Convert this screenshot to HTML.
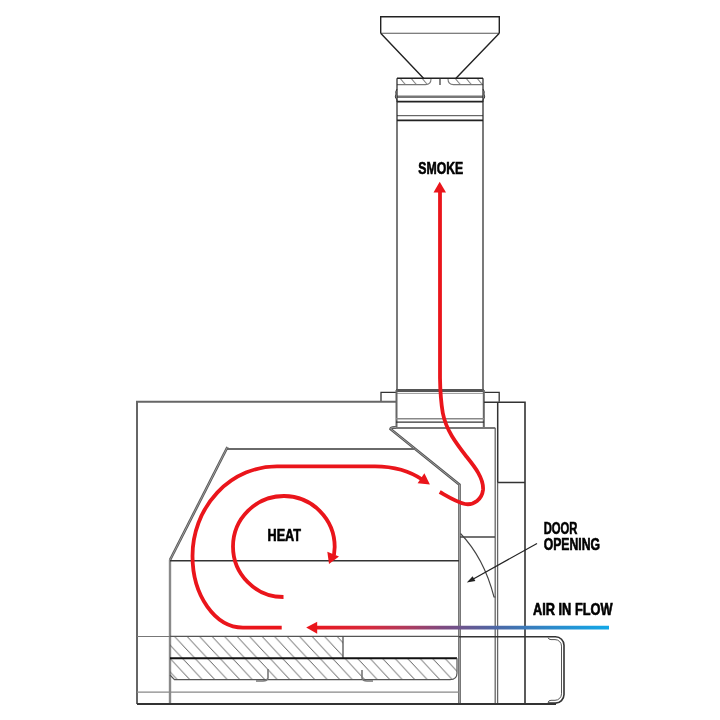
<!DOCTYPE html>
<html><head><meta charset="utf-8">
<style>
html,body{margin:0;padding:0;background:#fff;width:720px;height:720px;overflow:hidden}
svg{display:block}
text{font-family:"Liberation Sans",sans-serif;font-weight:bold;fill:#000;stroke:#000;stroke-width:0.65}
</style></head><body>
<svg width="720" height="720" viewBox="0 0 720 720">
<defs>
  <pattern id="hatch" patternUnits="userSpaceOnUse" width="12.5" height="13.4" patternTransform="translate(174.5,636.4)">
    <path d="M0 0 L12.5 13.4 M-12.5 0 L0 13.4 M12.5 0 L25 13.4" stroke="#555" stroke-width="0.95"/>
  </pattern>
  <pattern id="hatch2" patternUnits="userSpaceOnUse" width="11" height="6.3" patternTransform="translate(400,78.3)">
    <path d="M0 0 L5.5 6.3 M-11 0 L-5.5 6.3 M11 0 L16.5 6.3" stroke="#777" stroke-width="1"/>
  </pattern>
  <linearGradient id="airg" gradientUnits="userSpaceOnUse" x1="306" y1="0" x2="609" y2="0">
    <stop offset="0" stop-color="#ea151b"/>
    <stop offset="0.2" stop-color="#d8283a"/>
    <stop offset="0.33" stop-color="#b03a5c"/>
    <stop offset="0.45" stop-color="#7e4a80"/>
    <stop offset="0.63" stop-color="#4c68a6"/>
    <stop offset="0.8" stop-color="#2e88c8"/>
    <stop offset="1" stop-color="#12a8e8"/>
  </linearGradient>
</defs>

<!-- ===== Chimney cap ===== -->
<g fill="none" stroke="#222" stroke-width="1.4">
  <path d="M380.7 33.3 L380.7 16.8 L499.3 16.8 L499.3 33.3"/>
  <path d="M380.7 33.3 L499.3 33.3" stroke="#555" stroke-width="1.1"/>
  <path d="M380.7 33.3 L423.5 78.3 M499.3 33.3 L456 78.3"/>
</g>

<!-- ===== Top collar ===== -->
<clipPath id="bandL"><path d="M397 78.3 L431 78.3 L431 79 Q431 84.6 425.5 84.6 L397 84.6 Z"/></clipPath>
<clipPath id="bandR"><path d="M483 78.3 L448 78.3 L448 79 Q448 84.6 453.5 84.6 L483 84.6 Z"/></clipPath>
<rect x="397" y="78.3" width="34" height="6.3" fill="url(#hatch2)" clip-path="url(#bandL)"/>
<rect x="448" y="78.3" width="35" height="6.3" fill="url(#hatch2)" clip-path="url(#bandR)"/>
<g fill="none">
  <path d="M397 78.3 L483 78.3" stroke="#222" stroke-width="1.6"/>
  <path d="M397 84.6 L425.5 84.6 Q431 84.6 431 79 M483 84.6 L453.5 84.6 Q448 84.6 448 79" stroke="#777" stroke-width="1.1"/>
  <path d="M440 78.3 L440 85" stroke="#333" stroke-width="1.2"/>
  <path d="M397 96.7 L483 96.7" stroke="#777" stroke-width="2.6"/>
  <path d="M397 101.7 L483 101.7" stroke="#222" stroke-width="1.8"/>
  <path d="M397 115.7 L483 115.7" stroke="#444" stroke-width="1"/>
  <path d="M397 120.4 L483 120.4" stroke="#222" stroke-width="1.8"/>
  <path d="M397 78.3 L397 391 M483 78.3 L483 391" stroke="#222" stroke-width="1.2"/>
  <path d="M397 89 Q395 92 396 94 Q394 97 397 100 L397 102" stroke="#333" stroke-width="1"/>
  <path d="M483 89 Q485 92 484 94 Q486 97 483 100 L483 102" stroke="#333" stroke-width="1"/>
</g>

<!-- ===== Lower collar / oven top ===== -->
<g fill="none">
  <path d="M396 390.5 L484 390.5" stroke="#555" stroke-width="2.8"/>
  <path d="M396 393.4 L484 393.4" stroke="#999" stroke-width="1"/>
  <path d="M381 401.7 L381 392.3 L396 392.3 M484 392.3 L499.2 392.3 L499.2 401.7" stroke="#333" stroke-width="1.3"/>
  <path d="M396.5 390 L396.5 427.5 M483.8 390 L483.8 427.5" stroke="#666" stroke-width="2"/>
  <path d="M396 418.8 L484 418.8" stroke="#888" stroke-width="1.4"/>
  <path d="M396 422.2 L484 422.2" stroke="#333" stroke-width="1.3"/>
  <path d="M392 428 L495.3 428" stroke="#777" stroke-width="2.2"/>
  <path d="M137 704 L137 401.7 L396 401.7" stroke="#666" stroke-width="2"/>
  <path d="M484 402.3 L525 402.3 L525 704" stroke="#333" stroke-width="1.6"/>
  <path d="M497.7 402.3 L497.7 482.5 L525 482.5" stroke="#333" stroke-width="1.5"/>
  <path d="M495.2 428 L495.2 704" stroke="#666" stroke-width="1.3"/>
  <path d="M497.6 482.5 L497.6 704" stroke="#666" stroke-width="1.3"/>
  <!-- baffle -->
  <path d="M396 427.5 Q391 427 390.5 429 L459.5 484.7 L459.5 704" stroke="#555" stroke-width="2.6"/>
  <path d="M396 427.5 Q391 427 390.5 429 L459.5 484.7 L459.5 704" stroke="#bbb" stroke-width="0.7"/>
  <!-- dome -->
  <path d="M227 449 L415 449" stroke="#6a6a6a" stroke-width="2"/>
  <path d="M170 560 L170 704" stroke="#8a8a8a" stroke-width="2.4"/>
  <path d="M227.5 447 L170 560" stroke="#555" stroke-width="2.6"/>
  <path d="M227.5 447 L170 560" stroke="#bbb" stroke-width="0.7"/>
  <path d="M170 560.8 L459 560.8" stroke="#333" stroke-width="1.4"/>
  <path d="M137 636.5 L170 636.5" stroke="#777" stroke-width="1"/>
</g>

<!-- slabs -->
<rect x="170" y="636.4" width="173" height="21.8" fill="url(#hatch)"/>
<path d="M170 658.2 L457 658.2 L457 673 Q457 679.7 450 679.7 L174.5 679.7 L170 675 Z" fill="url(#hatch)"/>
<g fill="none">
  <path d="M170 636.4 L459 636.4" stroke="#555" stroke-width="1.2"/>
  <path d="M343 636.4 L343 658.2" stroke="#444" stroke-width="1.2"/>
  <path d="M170 658.2 L457 658.2" stroke="#111" stroke-width="2"/>
  <path d="M457 658.2 L457 673 Q457 679.7 450 679.7 L174.5 679.7 L170 675" stroke="#555" stroke-width="1.2"/>
  <path d="M268 669 L268 678 Q267 681 263 681 L256 681" stroke="#777" stroke-width="1.6"/>
  <path d="M362 670 L362 678 Q363 681 367 681 L373 681" stroke="#777" stroke-width="1.6"/>
  <path d="M137 692.2 L459 692.2" stroke="#888" stroke-width="1.2"/>
  <path d="M137 704 L556 704" stroke="#333" stroke-width="2"/>
  <!-- door -->
  <path d="M460 537 L495 537" stroke="#444" stroke-width="1.3"/>
  <path d="M460.5 533.5 Q484 558 494 597 L495.5 597" stroke="#444" stroke-width="1.1"/>
  <!-- handle -->
  <path d="M459 636.8 L555.5 636.8 A 8.5 8.5 0 0 1 564 645.3 L564 694.6 A 8.5 8.5 0 0 1 555.5 703.1 L548 703.1" stroke="#333" stroke-width="1.6"/>
  <path d="M548 637.5 Q548.5 639.6 551 639.6 L555 639.6 A 6.5 6.5 0 0 1 561.5 646.1 L561.5 693.8 A 6.5 6.5 0 0 1 555 700.3 L551 700.3 Q548.5 700.3 548 702.5" stroke="#555" stroke-width="1"/>
  <!-- door arrow -->
  <path d="M537 543.5 L472 579.7" stroke="#222" stroke-width="1.2"/>
  <polygon points="466.8,582.6 472.6,576.3 475.4,580.9" fill="#222" stroke="none"/>
</g>

<!-- ===== Red arrows ===== -->
<g fill="none" stroke="#ea151b" stroke-width="3.8" stroke-linecap="butt">
  <path d="M439.7 492 C 446 495.5, 456 502, 465 504 C 474 505.5, 482 499, 483 490 C 484 478, 474 466, 466 456 C 456 443, 446 430, 442.8 413 C 440.7 401, 440.2 390, 440 378 L 440 191"/>
  <path d="M281.7 627.6 L243 627.6 A 50.5 71.6 0 0 1 192.5 556 A 84.5 89.7 0 0 1 277 466.3 L 375 466.3 C 395 466.3, 410 471, 423 480"/>
  <path d="M283.5 597 A 50.5 50.5 0 0 1 233 546.5 A 51 50.5 0 0 1 284 496 A 51 51 0 0 1 334.7 547 L 334 555"/>
</g>
<g fill="#ea151b">
  <polygon points="439.7,181.7 433.5,192.5 446,192.5"/>
  <polygon points="424.4,473.3 417.6,483.2 429.9,484.4"/>
  <polygon points="327.3,551.8 339,556.4 329,564"/>
</g>
<path d="M316 627.6 L609 627.6" stroke="url(#airg)" stroke-width="3.8" fill="none"/>
<polygon points="306.2,627.6 317.2,621.7 317.2,633.7" fill="#ea151b"/>

<!-- ===== Text ===== -->
<g style="will-change:transform">
<text x="418.3" y="173.5" font-size="17.4" textLength="45" lengthAdjust="spacingAndGlyphs">SMOKE</text>
<text x="267.5" y="541" font-size="16.7" textLength="33.5" lengthAdjust="spacingAndGlyphs">HEAT</text>
<text x="543.7" y="533.7" font-size="17.4" textLength="33.8" lengthAdjust="spacingAndGlyphs">DOOR</text>
<text x="543.7" y="550" font-size="17.4" textLength="56.3" lengthAdjust="spacingAndGlyphs">OPENING</text>
<text x="533" y="615.2" font-size="16.7" textLength="79.5" lengthAdjust="spacingAndGlyphs">AIR IN FLOW</text>
</g>
</svg>
</body></html>
